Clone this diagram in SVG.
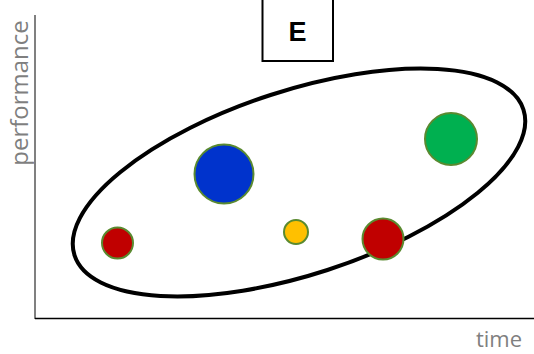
<svg xmlns="http://www.w3.org/2000/svg" width="534" height="354" viewBox="0 0 534 354">
<style>
.lbl{font-family:"Open Sans","Liberation Sans",sans-serif;fill:#7f7f7f}
.dot{stroke:#5a8a30;stroke-width:2}
</style>
<rect width="534" height="354" fill="#fff"/>
<g id="axes">
<line x1="35" y1="15" x2="35" y2="319" stroke="#808080" stroke-width="2"/>
<line x1="35" y1="318.5" x2="534" y2="318.5" stroke="#000" stroke-width="1.5"/>
<text class="lbl" font-size="24" transform="translate(28,93) rotate(-90)" text-anchor="middle">performance</text>
<text class="lbl" font-size="22" x="499" y="347" text-anchor="middle">time</text>
</g>
<g id="box-e">
<rect x="262.5" y="-2" width="70.5" height="63" fill="#fff" stroke="#000" stroke-width="2"/>
<text x="297.5" y="41" text-anchor="middle" font-family="'Liberation Sans',Arial,sans-serif" font-weight="bold" font-size="27">E</text>
</g>
<g id="ellipse">
<ellipse cx="299" cy="182.5" rx="236" ry="92" transform="rotate(-18 299 182.5)" fill="none" stroke="#000" stroke-width="4"/>
</g>
<g id="blue"><circle class="dot" cx="224" cy="174" r="29.5" fill="#0033cc"/></g>
<g id="red-small"><circle class="dot" cx="117.5" cy="243" r="15.5" fill="#c00000"/></g>
<g id="yellow"><circle class="dot" cx="296" cy="232" r="12" fill="#ffc000"/></g>
<g id="red-big"><circle class="dot" cx="383" cy="239" r="20.5" fill="#c00000"/></g>
<g id="green"><circle class="dot" cx="451" cy="139" r="26" fill="#00b050"/></g>
</svg>
